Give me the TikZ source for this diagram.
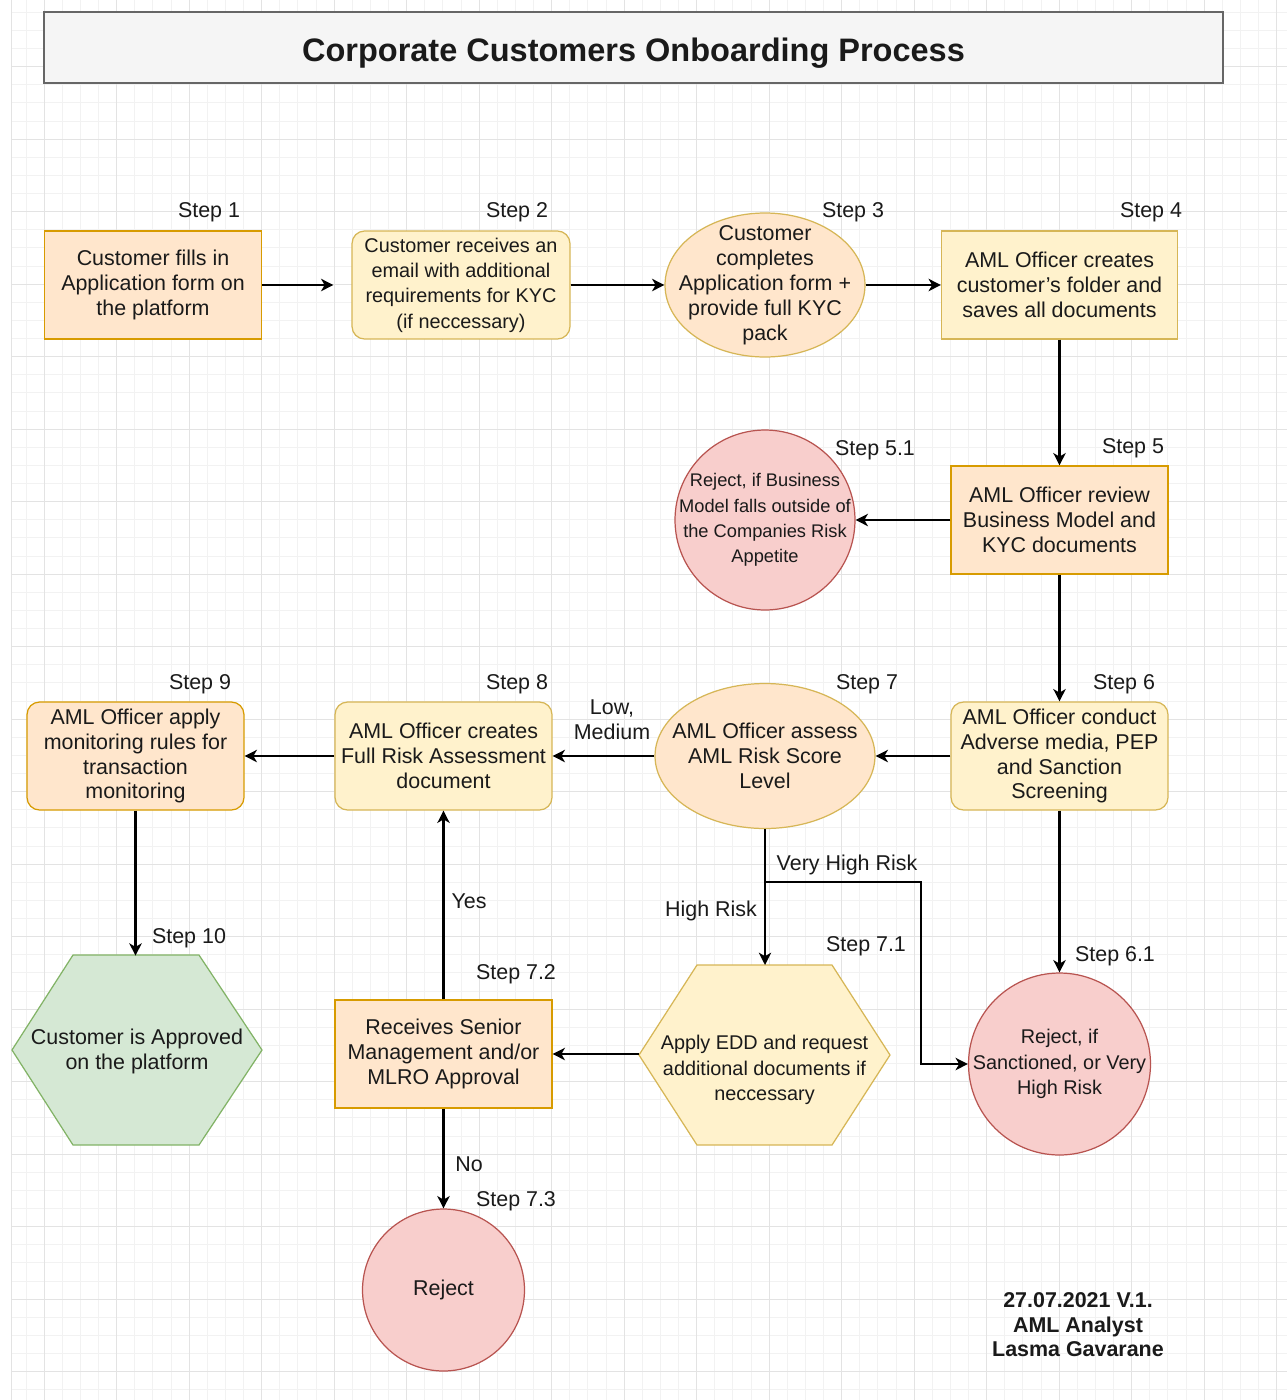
\documentclass[tikz,border=0pt]{standalone}
\usepackage{fontspec}
\setmainfont{Liberation Sans}
\usepackage{xcolor}
\usepackage{tikz}
\usetikzlibrary{arrows.meta,shapes.geometric}
\definecolor{peachfill}{HTML}{FFE6CC}
\definecolor{peachline}{HTML}{D79B00}
\definecolor{yelfill}{HTML}{FFF2CC}
\definecolor{yelline}{HTML}{D6B656}
\definecolor{redfill}{HTML}{F8CECC}
\definecolor{redline}{HTML}{B85450}
\definecolor{grnfill}{HTML}{D5E8D4}
\definecolor{grnline}{HTML}{82B366}
\definecolor{titlefill}{HTML}{F5F5F5}
\definecolor{titleline}{HTML}{666666}
\definecolor{txt}{HTML}{1A1A1A}
\newcommand{\bodyfont}{\fontsize{12.2}{14.2}\selectfont}
\newcommand{\smallbody}{\fontsize{11.3}{14.4}\selectfont}
\tikzset{
  plain/.style={align=center, inner sep=0pt, text=txt, font=\bodyfont},
  box/.style={plain, draw, line width=0.7pt, minimum width=4.34cm, minimum height=2.16cm},
  peachbox/.style={box, fill=peachfill, draw=peachline},
  yelbox/.style={box, fill=yelfill, draw=yelline},
  roundbox/.style={rounded corners=0.25cm},
  oval/.style={plain, ellipse, draw=yelline, fill=peachfill, line width=0.7pt, inner sep=-1cm},
  redcirc/.style={plain, circle, draw=redline, fill=redfill, line width=0.7pt, inner sep=-1cm},
  hexpath/.style={line width=0.7pt},
  steplbl/.style={text=txt, font=\bodyfont, inner sep=0pt},
  edgelbl/.style={text=txt, font=\bodyfont, inner sep=0pt, align=center},
  flow/.style={->, line width=1.2pt, black},
  minorgrid/.style={draw=black!5, line width=0.4pt},
  majorgrid/.style={draw=black!11, line width=0.5pt}
}
\begin{document}
\begin{tikzpicture}[x=0.02cm, y=-0.02cm, >={Stealth[length=7pt,width=7pt,inset=2pt]}]
\useasboundingbox (0,0) rectangle (1287,1400);
\fill[white] (0,0) rectangle (1287,1400);
\foreach \i in {0,...,69} \draw[minorgrid] ({25.875+18.125*\i},0) -- ({25.875+18.125*\i},1400);
\foreach \j in {0,...,76} \draw[minorgrid] (11,{12.125+18.125*\j}) -- (1287,{12.125+18.125*\j});
\foreach \i in {0,...,17} \draw[majorgrid] ({44+72.5*\i},0) -- ({44+72.5*\i},1400);
\foreach \j in {0,...,18} \draw[majorgrid] (11,{66.5+72.5*\j}) -- (1287,{66.5+72.5*\j});
\draw[majorgrid] (11,0) -- (11,1400);

\node[draw=titleline, fill=titlefill, line width=1pt, minimum width=23.58cm, minimum height=1.42cm, text height=20pt, text depth=4pt, text=txt, font=\bfseries\fontsize{18.5}{22}\selectfont] (title) at (633.5,47.5) {Corporate Customers Onboarding Process};

% top row
\node[peachbox] (st1) at (153,285) {Customer fills in\\Application form on\\the platform};
\node[yelbox, roundbox, minimum width=4.36cm, font=\smallbody] (st2) at (461,285) {Customer receives an\\email with additional\\requirements for KYC\\(if neccessary)};
\node[oval, minimum width=4cm, minimum height=2.88cm] (st3) at (765,285) {Customer\\completes\\Application form +\\provide full KYC\\pack};
\node[yelbox, minimum width=4.72cm] (st4) at (1059.5,285) {AML Officer creates\\customer's folder and\\saves all documents};
\node[steplbl] (lbl1) at (209,212) {Step 1};
\node[steplbl] (lbl2) at (517,212) {Step 2};
\node[steplbl] (lbl3) at (853,212) {Step 3};
\node[steplbl] (lbl4) at (1151,212) {Step 4};

% business model check
\node[peachbox, draw=peachline] (st5) at (1059.5,520) {AML Officer review\\Business Model and\\KYC documents};
\node[redcirc, minimum size=3.6cm, font=\fontsize{10.4}{14.4}\selectfont] (st51) at (765,520) {Reject, if Business\\Model falls outside of\\the Companies Risk\\Appetite};
\node[steplbl] (lbl5) at (1133,448) {Step 5};
\node[steplbl] (lbl51) at (875,450) {Step 5.1};

% middle row
\node[yelbox, roundbox] (st6) at (1059.5,756) {AML Officer conduct\\Adverse media, PEP\\and Sanction\\Screening};
\node[oval, minimum width=4.4cm, minimum height=2.9cm] (st7) at (765,756) {AML Officer assess\\AML Risk Score\\Level};
\node[yelbox, roundbox] (st8) at (443.5,756) {AML Officer creates\\Full Risk Assessment\\document};
\node[peachbox, roundbox] (st9) at (135.5,756) {AML Officer apply\\monitoring rules for\\transaction\\monitoring};
\node[steplbl] (lbl6) at (1124,684) {Step 6};
\node[steplbl] (lbl7) at (867,684) {Step 7};
\node[steplbl] (lbl8) at (517,684) {Step 8};
\node[steplbl] (lbl9) at (200,684) {Step 9};

% bottom part
\filldraw[hexpath, fill=grnfill, draw=grnline] (12,1050) -- (73,955) -- (199,955) -- (262,1050) -- (199,1145) -- (73,1145) -- cycle;
\filldraw[hexpath, fill=yelfill, draw=yelline] (639,1055) -- (697,965) -- (832,965) -- (890,1055) -- (832,1145) -- (697,1145) -- cycle;
\node[plain, minimum width=5cm, minimum height=3.8cm] (st10) at (137,1051) {Customer is Approved\\on the platform};
\node[plain, minimum width=5.02cm, minimum height=3.6cm, font=\fontsize{11.3}{14.7}\selectfont] (st71) at (764.5,1070) {Apply EDD and request\\additional documents if\\neccessary};
\node[peachbox] (st72) at (443.5,1054) {Receives Senior\\Management and/or\\MLRO Approval};
\node[redcirc, minimum size=3.64cm, font=\smallbody] (st61) at (1059.5,1064) {Reject, if\\Sanctioned, or Very\\High Risk};
\node[redcirc, minimum size=3.24cm] (st73) at (443.5,1290) {Reject};
\node[steplbl] (lbl10) at (189,938) {Step 10};
\node[steplbl] (lbl71) at (866,946) {Step 7.1};
\node[steplbl] (lbl61) at (1115,956) {Step 6.1};
\node[steplbl] (lbl72) at (516,974) {Step 7.2};
\node[steplbl] (lbl73) at (516,1201) {Step 7.3};

% connectors
\draw[flow, shorten >=0.36cm] (st1) -- (st2);
\draw[flow] (st2) -- (st3);
\draw[flow] (st3) -- (st4);
\draw[flow] (st4) -- (st5);
\draw[flow] (st5) -- (st51);
\draw[flow] (st5) -- (st6);
\draw[flow] (st6) -- (st7);
\draw[flow] (st7) -- (st8);
\draw[flow] (st8) -- (st9);
\draw[flow] (st9) -- (st9 |- st10.north);
\draw[flow] (st6) -- (st61);
\draw[flow] (st7) -- (st7 |- 0,965);
\coordinate (vhigh) at (921,882);
\draw[flow] (st7.south) |- (vhigh) |- (st61.west);
\draw[flow] (st71.west |- st72) -- (st72.east);
\draw[flow] (st72) -- (st8);
\draw[flow] (st72) -- (st73);
\node[edgelbl] (lowmed) at (612,720) {Low,\\Medium};
\node[edgelbl] (vhrisk) at (847,865) {Very High Risk};
\node[edgelbl] (hrisk) at (711,911) {High Risk};
\node[edgelbl] (yes) at (469,901) {Yes};
\node[edgelbl] (no) at (469,1164) {No};

\node[align=center, text=txt, font=\bfseries\fontsize{12.2}{14}\selectfont] (sign) at (1078,1325) {27.07.2021 V.1.\\AML Analyst\\Lasma Gavarane};
\end{tikzpicture}
\end{document}
